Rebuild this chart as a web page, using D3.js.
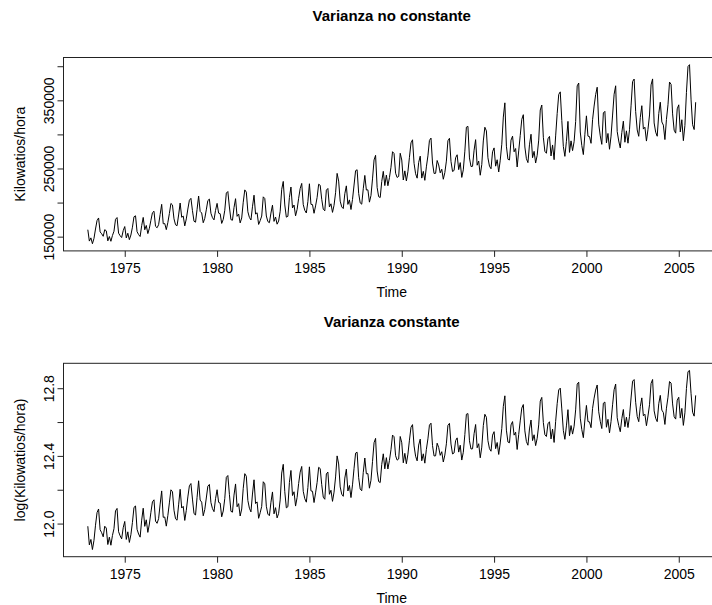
<!DOCTYPE html>
<html>
<head>
<meta charset="utf-8">
<script src="https://cdn.jsdelivr.net/npm/d3@7"></script>
<style>
  body { margin: 0; background: #fff; }
  text { font-family: "Liberation Sans", Arial, Helvetica, sans-serif; fill: #000; }
</style>
</head>
<body>
<svg id="chart" width="712" height="605"></svg>
<script>
// Monthly net electricity generation, January 1973 to December 2005
const startYear = 1973;
const monthsPerYear = 12;
const kwh = [
  160200,143500,148200,139600,147400,161200,173700,177400,156900,154200,150500,160200,
  158500,143800,150200,143200,151600,157900,175400,178000,155100,151400,148700,158800,
  164800,148200,155000,145600,152400,163900,179100,180600,157300,153000,150200,166100,
  178200,160100,166400,154500,162300,174000,185100,187300,165200,163000,167500,182600,
  197400,168900,169200,160300,170600,183900,198700,196500,176100,167400,166000,181800,
  199300,178400,180200,165800,176000,190500,203400,206200,188100,172600,171200,190000,
  209600,187000,184700,170400,176800,189300,203000,205100,184300,177800,174600,188500,
  198800,184500,183700,169400,175300,188600,213900,216200,193500,175000,174100,192600,
  205700,179800,183100,170200,177400,200500,218600,215300,186500,178200,174400,193800,
  210800,183200,185000,167900,173500,180200,208400,205900,180300,172100,170500,184600,
  196200,172400,178800,168300,172900,187200,219400,231000,196500,178600,179800,207500,
  222800,192100,196400,180500,189900,206300,220600,228100,196900,188500,184700,201400,
  227600,197400,197000,184300,195100,207500,226900,225300,204800,190200,187900,218200,
  220700,193500,198200,185600,196000,214400,242800,231500,202100,193600,191200,213000,
  224500,197300,203900,189800,204600,225700,246800,248100,213400,199500,197600,220300,
  239800,218400,218700,200600,210300,234700,262500,269300,222100,208600,207400,230900,
  245800,224900,240300,224700,236500,251800,274600,271900,243000,236800,238400,272300,
  262400,233100,246500,231800,245300,266400,287600,292100,257500,242300,235800,258900,
  268100,235900,245800,232600,252400,268500,291200,294600,258000,242700,242900,261700,
  255200,243600,248900,234200,244000,260800,290700,294300,260400,245600,247100,265800,
  270100,248300,258600,236900,248000,275400,310600,311800,265500,252900,253200,276800,
  292300,254800,260900,240100,255700,290400,310500,305100,265700,253400,249600,274500,
  280200,253400,262800,244900,262100,285600,325400,346300,282700,263500,262400,291600,
  297400,274500,279300,252200,275800,298600,322100,328900,281500,264300,258600,284700,
  300200,265800,275100,258000,269400,291600,335700,343100,295800,275200,272300,293500,
  297100,268400,284500,262900,297800,330600,358600,362400,320500,282300,267800,289900,
  319100,273600,290500,276200,289400,318700,371200,375400,303500,283600,270400,300200,
  327200,297400,296800,286900,321500,341600,358300,369200,315100,297800,285400,331500,
  333800,287600,301400,278200,297500,328400,358900,371300,304200,290300,280100,302600,
  319400,288500,305200,287100,306800,341900,377600,381200,333400,306500,297200,324900,
  342100,307800,310600,290200,307400,328500,372600,381400,316800,303200,297300,330500,
  347200,318300,313600,292400,321900,343500,376800,373400,330100,306200,301800,337500,
  343400,303600,321500,290800,313200,361700,399500,402300,350600,314200,307100,347200
];

const yearTicks = [1975, 1980, 1985, 1990, 1995, 2000, 2005];
const levelTicks = [150000, 200000, 250000, 300000, 350000, 400000];
const levelLabels = [150000, 250000, 350000];
const logTicks = [12.0, 12.2, 12.4, 12.6, 12.8];
const logLabels = [12.0, 12.4, 12.8];

const titles = ["Varianza no constante", "Varianza constante"];
const yTitles = ["Kilowatios/hora", "log(Kilowatios/hora)"];
const xTitle = "Time";

// series as (time, value) pairs, and its natural log
const series = kwh.map((v, i) => ({ t: startYear + i / monthsPerYear, v }));
const logSeries = series.map(d => ({ t: d.t, v: Math.log(d.v) }));

const svg = d3.select("#chart");

// plot box geometry shared by both panels (right side runs past the canvas)
const boxLeft = 63.5, boxRight = 720, boxHeight = 193.4;
const panelTops = [57.5, 363.3];
const axisFont = "14px", titleFont = "15px";

// 4% padding on each side of a data range
function padded([a, b]) {
  const p = (b - a) * 0.04;
  return [a - p, b + p];
}

const x = d3.scaleLinear()
  .domain(padded(d3.extent(series, d => d.t)))
  .range([boxLeft, boxRight]);

function drawPanel(data, top, title, yTitle, ticks, labels, fmt) {
  const bottom = top + boxHeight;
  const g = svg.append("g");
  const y = d3.scaleLinear()
    .domain(padded(d3.extent(data, d => d.v)))
    .range([bottom, top]);

  // panel title
  g.append("text")
    .attr("x", (boxLeft + boxRight) / 2)
    .attr("y", top - 36.8)
    .attr("text-anchor", "middle")
    .style("font-weight", "bold")
    .style("font-size", titleFont)
    .text(title);

  // series line
  g.append("path")
    .datum(data)
    .attr("fill", "none")
    .attr("stroke", "#000")
    .attr("stroke-width", 1)
    .attr("stroke-linejoin", "round")
    .attr("d", d3.line().x(d => x(d.t)).y(d => y(d.v)));

  // frame
  g.append("rect")
    .attr("x", boxLeft).attr("y", top)
    .attr("width", boxRight - boxLeft).attr("height", boxHeight)
    .attr("fill", "none").attr("stroke", "#222").attr("stroke-width", 1);

  // x axis
  const xa = g.append("g")
    .attr("transform", `translate(0,${bottom})`)
    .call(d3.axisBottom(x).tickValues(yearTicks).tickSize(6).tickSizeOuter(0)
      .tickFormat(d3.format("d")));
  xa.select(".domain").remove();
  xa.selectAll("line").attr("stroke", "#222");
  xa.selectAll("text")
    .style("font-size", axisFont)
    .attr("y", 22.6)
    .attr("dy", 0);

  // y axis, labels parallel to the axis
  const ya = g.append("g")
    .attr("transform", `translate(${boxLeft},0)`)
    .call(d3.axisLeft(y).tickValues(ticks).tickSize(6).tickSizeOuter(0)
      .tickFormat(d => labels.some(l => Math.abs(l - d) < 1e-9) ? fmt(d) : ""));
  ya.select(".domain").remove();
  ya.selectAll("line").attr("stroke", "#222");
  ya.selectAll("text")
    .style("font-size", axisFont)
    .attr("text-anchor", "middle")
    .attr("transform", "rotate(-90)")
    .attr("x", 0)
    .attr("y", -9.5)
    .attr("dy", 0);

  // axis titles
  g.append("text")
    .attr("x", (boxLeft + boxRight) / 2)
    .attr("y", bottom + 46.5)
    .attr("text-anchor", "middle")
    .style("font-size", axisFont)
    .text(xTitle);

  g.append("text")
    .attr("transform", `translate(25,${(top + bottom) / 2}) rotate(-90)`)
    .attr("text-anchor", "middle")
    .style("font-size", axisFont)
    .text(yTitle);
}

drawPanel(series, panelTops[0], titles[0], yTitles[0], levelTicks, levelLabels, d3.format("d"));
drawPanel(logSeries, panelTops[1], titles[1], yTitles[1], logTicks, logLabels, d3.format(".1f"));
</script>
</body>
</html>
